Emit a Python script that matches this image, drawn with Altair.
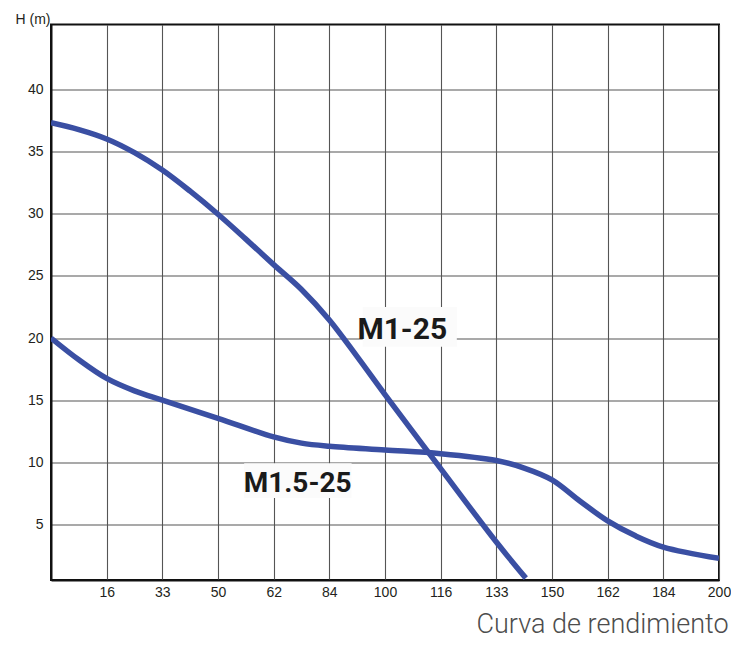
import json
import altair as alt
import pandas as pd

# x positions are grid columns (0..12); labels are the printed flow values
x_tick_pos = list(range(1, 13))
x_tick_labels = ["16", "33", "50", "62", "84", "100", "116", "133", "150", "162", "184", "200"]
y_ticks = [5, 10, 15, 20, 25, 30, 35, 40]

m1_x = [0, 0.5, 1, 1.5, 2, 2.5, 3, 3.5, 4, 4.5, 5, 5.5, 6, 7, 8, 8.53]
m1_h = [37.3, 36.75, 36.0, 34.9, 33.5, 31.8, 29.95, 27.95, 25.9, 23.9, 21.45, 18.5, 15.45, 9.5, 3.6, 0.7]

m15_x = [0, 0.5, 1, 1.5, 2, 3, 4, 4.5, 5, 6, 7, 8, 8.5, 9, 9.5, 10, 10.5, 11, 12]
m15_h = [20.0, 18.25, 16.75, 15.75, 15.0, 13.55, 12.05, 11.55, 11.3, 11.0, 10.7, 10.15, 9.55, 8.6, 6.9, 5.3, 4.1, 3.2, 2.3]

label_text = ["M1-25", "M1.5-25"]
label_x = [6.31, 4.43]
label_y = [19.9, 7.6]
label_size = [30, 28]
box_x1 = [5.60, 3.47]
box_x2 = [7.29, 5.40]
box_y1 = [19.3, 7.14]
box_y2 = [22.5, 9.93]

curves = pd.DataFrame(
    [{"series": "M1-25", "gx": x, "h": h} for x, h in zip(m1_x, m1_h)]
    + [{"series": "M1.5-25", "gx": x, "h": h} for x, h in zip(m15_x, m15_h)]
)
labels = pd.DataFrame({
    "text": label_text, "gx": label_x, "h": label_y, "size": label_size,
    "x1": box_x1, "x2": box_x2, "y1": box_y1, "y2": box_y2,
})

label_expr = json.dumps(x_tick_labels) + "[datum.value - 1]"

xscale = alt.Scale(domain=[0, 12], nice=False, zero=False)
yscale = alt.Scale(domain=[0.55, 45.2], nice=False, zero=False)

xaxis = alt.Axis(values=x_tick_pos, labelExpr=label_expr, title=None, ticks=False,
                 grid=True, gridColor="#555555", gridWidth=1.1,
                 domainColor="#111111", domainWidth=2,
                 labelFont="Liberation Sans", labelFontSize=14, labelColor="#231f20",
                 labelPadding=5, labelFlush=False)
yaxis = alt.Axis(values=y_ticks, title="H (m)", ticks=False,
                 grid=True, gridColor="#555555", gridWidth=1.1,
                 domainColor="#111111", domainWidth=2,
                 labelFont="Liberation Sans", labelFontSize=14, labelColor="#231f20",
                 labelPadding=8,
                 titleAngle=0, titleX=-36, titleY=-1, titleAlign="left",
                 titleBaseline="alphabetic", titleFont="Liberation Sans",
                 titleFontSize=14, titleFontWeight="normal", titleColor="#231f20")

base_axes = alt.Chart(curves).mark_line(opacity=0).encode(
    x=alt.X("gx:Q", scale=xscale, axis=xaxis),
    y=alt.Y("h:Q", scale=yscale, axis=yaxis),
    detail="series:N",
)

boxes = alt.Chart(labels).mark_rect(color="#fbfbfb").encode(
    x=alt.X("x1:Q", scale=xscale), x2="x2:Q",
    y=alt.Y("y1:Q", scale=yscale), y2="y2:Q",
)

lines = alt.Chart(curves).mark_line(
    interpolate="catmull-rom", color="#3a4fa3", strokeWidth=5.5, clip=True
).encode(
    x=alt.X("gx:Q", scale=xscale),
    y=alt.Y("h:Q", scale=yscale),
    detail="series:N",
)

texts = alt.Chart(labels).mark_text(
    font="Roboto", fontWeight="bold", color="#1a1a1a",
    align="center", baseline="alphabetic"
).encode(
    x=alt.X("gx:Q", scale=xscale),
    y=alt.Y("h:Q", scale=yscale),
    text="text:N",
    size=alt.Size("size:Q", scale=None, legend=None),
)

chart = alt.layer(base_axes, boxes, lines, texts).properties(
    width=668, height=555.5,
    title=alt.TitleParams("Curva de rendimiento", orient="bottom", anchor="end",
                          font="Roboto", fontSize=27, fontWeight=300,
                          color="#4d4d4d", offset=34, baseline="alphabetic", dx=-2),
    autosize=alt.AutoSizeParams(type="none"),
    padding={"left": 43, "top": 16.5, "right": 12, "bottom": 60},
).configure_view(stroke="#111111", strokeWidth=2)

chart.save("out.html", embed_options={"renderer": "svg", "actions": False})
